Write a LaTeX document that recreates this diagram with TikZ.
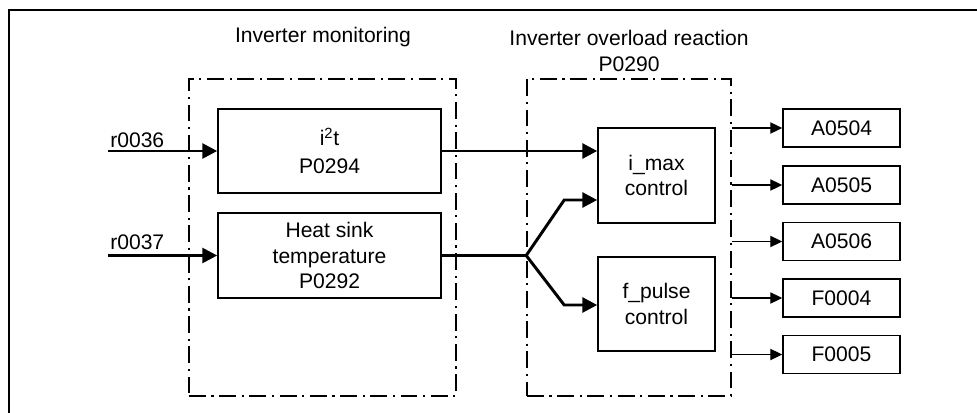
\documentclass[tikz,border=0pt]{standalone}
\usepackage{fontspec}
\setmainfont{Liberation Sans}
\usetikzlibrary{arrows.meta, positioning, calc}

\tikzset{
    blockbox/.style={draw, line width=1.1pt, rectangle, align=center, inner sep=0pt},
    groupbox/.style={draw, line width=1.1pt, rectangle, dash pattern=on 12pt off 4pt on 1.5pt off 4pt},
    thickarrow/.style={line width=2.1pt, -{Triangle[length=10.5pt, width=10.5pt]}},
    thinarrow/.style={line width=1pt, -{Triangle[length=8.5pt, width=8pt]}},
}

\begin{document}
\begin{tikzpicture}[x=0.025cm, y=-0.025cm, font=\fontsize{15}{18}\selectfont]
    \useasboundingbox (0,0) rectangle (977,413);

    % outer frame
    \draw[line width=1.4pt] (9,413) -- (9,10) -- (977,10);

    % Groups
    \node[groupbox, minimum width=6.675cm, minimum height=7.925cm] (grp1) at (322.5,237.5) {};
    \node[groupbox, minimum width=5.1cm, minimum height=7.925cm] (grp2) at (629,237.5) {};
    \node (grp1title) at (323,37) {Inverter monitoring};
    \node[align=center] (grp2title) at (629,51) {Inverter overload reaction\\P0290};

    % Monitoring blocks
    \node[blockbox, minimum width=5.575cm, minimum height=2.1cm] (i2t) at (329.5,151) {i\textsuperscript{2}t\\[2pt]P0294};
    \node[blockbox, minimum width=5.575cm, minimum height=2.125cm] (heat) at (329.5,255.5) {Heat sink\\temperature\\P0292};

    % Reaction blocks
    \node[blockbox, minimum width=2.925cm, minimum height=2.375cm] (imax) at (656.5,175.5) {i\_max\\control};
    \node[blockbox, minimum width=2.925cm, minimum height=2.35cm] (fpulse) at (656.5,304) {f\_pulse\\control};

    % Alarms and faults
    \node[blockbox, minimum width=2.925cm, minimum height=0.95cm] (A0504) at (841.5,128) {A0504};
    \node[blockbox, minimum width=2.925cm, minimum height=0.95cm] (A0505) at (841.5,185) {A0505};
    \node[blockbox, minimum width=2.925cm, minimum height=0.95cm] (A0506) at (841.5,241.5) {A0506};
    \node[blockbox, minimum width=2.925cm, minimum height=0.95cm] (F0004) at (841.5,298) {F0004};
    \node[blockbox, minimum width=2.925cm, minimum height=0.95cm] (F0005) at (841.5,354.5) {F0005};

    % Inputs
    \coordinate (r36) at (108,151);
    \coordinate (r37) at (108,255.5);
    \node[anchor=south west, inner sep=0pt] (r36lbl) at (110,148) {r0036};
    \node[anchor=south west, inner sep=0pt] (r37lbl) at (110,250) {r0037};
    \draw[thickarrow] (r36) -- (i2t.west);
    \draw[thickarrow] (r37) -- (heat.west);

    % Monitoring to reaction
    \draw[thickarrow] (i2t.east) -- (i2t.east -| imax.west);
    \coordinate (split) at (grp2.west |- heat.east);
    \draw[line width=2.1pt] (heat.east) -- (split);
    \draw[thickarrow] (split) -- ($(imax.west)+(-33,24.5)$) -- ($(imax.west)+(0,24.5)$);
    \draw[thickarrow] (split) -- ($(fpulse.west)+(-33,1)$) -- ($(fpulse.west)+(0,1)$);

    % Outputs
    \foreach \out in {A0504, A0505, A0506, F0004, F0005}
        \draw[thinarrow] (grp2.east |- \out.west) -- (\out.west);

\end{tikzpicture}
\end{document}
